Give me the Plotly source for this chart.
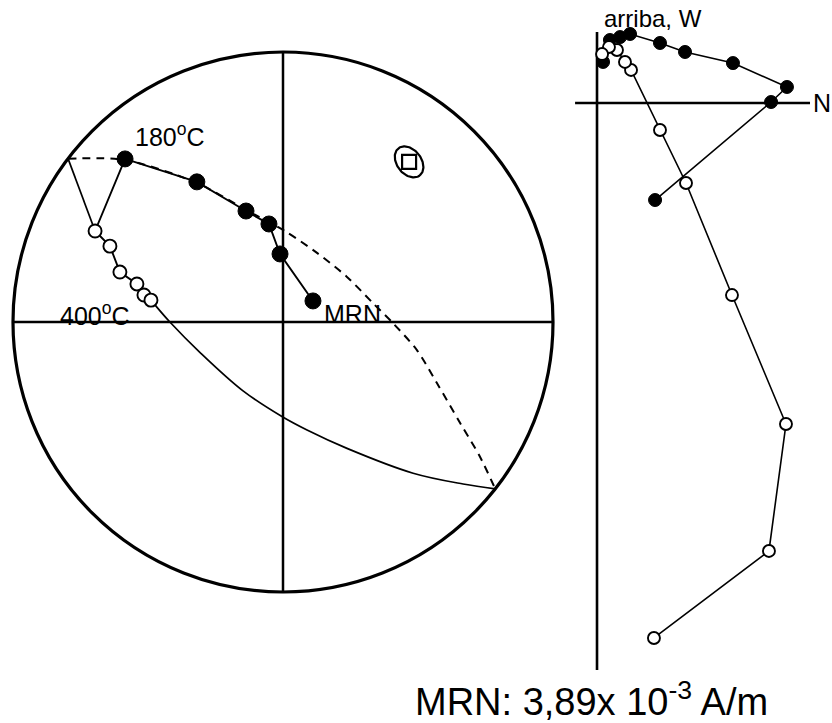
import numpy as np
import plotly.graph_objects as go

# ---------------- Stereonet (equal-area, unit circle coordinates) ----------------
# filled = lower hemisphere, path from MRN to 180 C
st_filled_x = [0.111, -0.011, -0.052, -0.137, -0.319, -0.585]
st_filled_y = [0.078, 0.252, 0.363, 0.411, 0.519, 0.604]
# open = upper hemisphere, 180 C -> 400 C
st_open_x = [-0.696, -0.641, -0.604, -0.541, -0.515, -0.489]
st_open_y = [0.337, 0.281, 0.185, 0.141, 0.100, 0.081]

# great circle traces
gc_left_x = [-0.796, -0.696]
gc_left_y = [0.605, 0.337]
gc_solid_x = [-0.489, -0.419, -0.307, -0.148, -0.004, 0.089, 0.237, 0.482, 0.667, 0.786]
gc_solid_y = [0.081, 0.000, -0.113, -0.255, -0.350, -0.400, -0.468, -0.560, -0.600, -0.618]
gc_dash_x = [-0.796, -0.585, -0.319, -0.137, 0.007, 0.126, 0.237, 0.333, 0.407, 0.496, 0.570, 0.656, 0.730, 0.786]
gc_dash_y = [0.605, 0.600, 0.515, 0.415, 0.337, 0.256, 0.167, 0.070, -0.004, -0.104, -0.226, -0.374, -0.500, -0.618]

# pole of the great circle and its confidence ellipse
pole_x = [0.467]
pole_y = [0.593]
ell_a, ell_b, ell_ang = 0.064, 0.045, -52.0

# ---------------- Zijderveld diagram (units of 10^-3 A/m) ----------------
zh_n = [0.413, 1.238, 1.351, 0.967, 0.626, 0.448, 0.235, 0.164, 0.092, 0.043]
zh_w = [-0.690, 0.007, 0.114, 0.284, 0.363, 0.427, 0.491, 0.469, 0.448, 0.292]
zv_n = [0.405, 1.223, 1.344, 0.960, 0.633, 0.448, 0.242, 0.199, 0.142, 0.085, 0.036]
zv_up = [-3.805, -3.186, -2.283, -1.366, -0.569, -0.192, 0.235, 0.292, 0.377, 0.398, 0.348]

FONT = "Liberation Sans, Arial, Helvetica, sans-serif"
fig = go.Figure()

# stereonet lines
fig.add_trace(go.Scatter(x=gc_dash_x, y=gc_dash_y, mode="lines",
                         line=dict(color="black", width=2, dash="8px,6px", shape="spline", smoothing=0.8),
                         xaxis="x", yaxis="y", hoverinfo="skip"))
fig.add_trace(go.Scatter(x=gc_left_x, y=gc_left_y, mode="lines",
                         line=dict(color="black", width=1.7), xaxis="x", yaxis="y", hoverinfo="skip"))
fig.add_trace(go.Scatter(x=gc_solid_x, y=gc_solid_y, mode="lines",
                         line=dict(color="black", width=1.7, shape="spline", smoothing=1.0),
                         xaxis="x", yaxis="y", hoverinfo="skip"))
fig.add_trace(go.Scatter(x=st_filled_x + st_open_x, y=st_filled_y + st_open_y, mode="lines",
                         line=dict(color="black", width=1.9), xaxis="x", yaxis="y", hoverinfo="skip"))
fig.add_trace(go.Scatter(x=st_filled_x, y=st_filled_y, mode="markers",
                         marker=dict(color="black", size=16, line=dict(color="black", width=1)),
                         xaxis="x", yaxis="y", cliponaxis=False))
fig.add_trace(go.Scatter(x=st_open_x, y=st_open_y, mode="markers",
                         marker=dict(color="white", size=13, line=dict(color="black", width=1.9)),
                         xaxis="x", yaxis="y", cliponaxis=False))

# ellipse around the pole
t = np.linspace(0, 2 * np.pi, 121)
ca, sa = np.cos(np.radians(ell_ang)), np.sin(np.radians(ell_ang))
ex = pole_x[0] + ell_a * np.cos(t) * ca - ell_b * np.sin(t) * sa
ey = pole_y[0] + ell_a * np.cos(t) * sa + ell_b * np.sin(t) * ca
fig.add_trace(go.Scatter(x=ex, y=ey, mode="lines", line=dict(color="black", width=2.2),
                         xaxis="x", yaxis="y", hoverinfo="skip"))
fig.add_trace(go.Scatter(x=pole_x, y=pole_y, mode="markers",
                         marker=dict(symbol="square-open", color="black", size=14, line=dict(width=2.2)),
                         xaxis="x", yaxis="y"))

# Zijderveld traces
fig.add_trace(go.Scatter(x=zh_n, y=zh_w, mode="lines+markers",
                         line=dict(color="black", width=1.6),
                         marker=dict(color="black", size=13, line=dict(color="black", width=1)),
                         xaxis="x2", yaxis="y2", cliponaxis=False))
fig.add_trace(go.Scatter(x=zv_n, y=zv_up, mode="lines+markers",
                         line=dict(color="black", width=1.6),
                         marker=dict(color="white", size=12, line=dict(color="black", width=1.9)),
                         xaxis="x2", yaxis="y2", cliponaxis=False))

shapes = [
    dict(type="circle", xref="x", yref="y", x0=-1, x1=1, y0=-1, y1=1,
         line=dict(color="black", width=3.2), layer="below"),
    dict(type="line", xref="x", yref="y", x0=-1, x1=1, y0=0, y1=0,
         line=dict(color="black", width=2.5), layer="below"),
    dict(type="line", xref="x", yref="y", x0=0, x1=0, y0=-1, y1=1,
         line=dict(color="black", width=2.5), layer="below"),
    dict(type="line", xref="x2", yref="y2", x0=0, x1=0, y0=0.505, y1=-4.033,
         line=dict(color="black", width=2.6), layer="below"),
    dict(type="line", xref="x2", yref="y2", x0=-0.156, x1=1.515, y0=0, y1=0,
         line=dict(color="black", width=2.6), layer="below"),
]

annotations = [
    dict(x=-0.556, y=0.693, xref="x", yref="y", text="180<sup>o</sup>C", showarrow=False,
         xanchor="left", yanchor="middle", font=dict(family=FONT, size=25, color="black")),
    dict(x=-0.833, y=0.030, xref="x", yref="y", text="400<sup>o</sup>C", showarrow=False,
         xanchor="left", yanchor="middle", font=dict(family=FONT, size=25, color="black")),
    dict(x=0.144, y=0.030, xref="x", yref="y", text="MRN", showarrow=False,
         xanchor="left", yanchor="middle", font=dict(family=FONT, size=25, color="black")),
    dict(x=0.398, y=0.600, xref="x2", yref="y2", text="arriba, W", showarrow=False,
         xanchor="center", yanchor="middle", font=dict(family=FONT, size=24, color="black")),
    dict(x=1.522, y=0.0, xref="x2", yref="y2", text="N", showarrow=False,
         xanchor="left", yanchor="middle", font=dict(family=FONT, size=25, color="black")),
    dict(x=413 / 832, y=0.033, xref="paper", yref="paper", text="MRN: 3,89x 10<sup>-3</sup> A/m",
         showarrow=False, xanchor="left", yanchor="middle",
         font=dict(family=FONT, size=38, color="black")),
]

ax_common = dict(visible=False, showgrid=False, zeroline=False, fixedrange=True)
fig.update_layout(
    width=832, height=723, autosize=False,
    margin=dict(l=0, r=0, t=0, b=0, pad=0),
    paper_bgcolor="white", plot_bgcolor="rgba(0,0,0,0)",
    showlegend=False,
    xaxis=dict(domain=[0, 560 / 832], range=[-1.0481, 1.0259], **ax_common),
    yaxis=dict(domain=[0, 1], range=[-1.4852, 1.1926], **ax_common),
    xaxis2=dict(domain=[560 / 832, 1], range=[-0.2632, 1.6714], anchor="y2", **ax_common),
    yaxis2=dict(domain=[0, 1], range=[-4.4097, 0.7326], anchor="x2", **ax_common),
    shapes=shapes, annotations=annotations,
)

fig.write_html("out.html", config={"displayModeBar": False},
               post_script="document.body.style.margin='0';document.body.style.overflow='hidden';")
